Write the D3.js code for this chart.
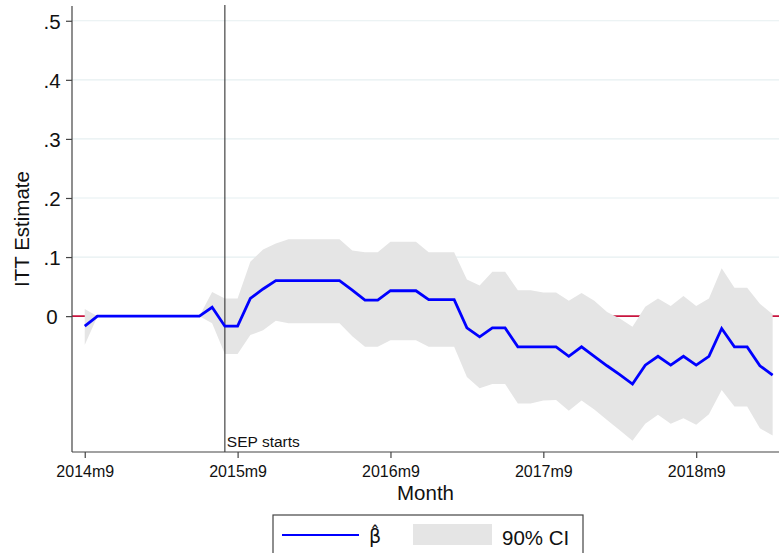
<!DOCTYPE html>
<html>
<head>
<meta charset="utf-8">
<script src="https://cdn.jsdelivr.net/npm/d3@7"></script>
<style>
  html, body { margin: 0; padding: 0; background: #fff; }
  svg { display: block; font-family: "Liberation Sans", Arial, Helvetica, sans-serif; }
</style>
</head>
<body>
<svg id="chart" width="779" height="553"></svg>
<script>
// ---- data (month index 0 = 2014m9 ... 54 = 2019m3) ----
const beta = [
  -0.017, 0, 0, 0, 0, 0, 0, 0, 0, 0,
  0.015, -0.017, -0.017, 0.030, 0.046, 0.060, 0.060, 0.060, 0.060, 0.060,
  0.060, 0.044, 0.027, 0.027, 0.043, 0.043, 0.043, 0.028, 0.028, 0.028,
  -0.020, -0.035, -0.020, -0.020, -0.052, -0.052, -0.052, -0.052, -0.068, -0.052,
  -0.068, -0.084, -0.099, -0.115, -0.083, -0.068, -0.083, -0.068, -0.083, -0.068,
  -0.021, -0.052, -0.052, -0.084, -0.100
];
const ciUpper = [
  0.012, 0, 0, 0, 0, 0, 0, 0, 0, 0,
  0.041, 0.030, 0.030, 0.092, 0.113, 0.123, 0.130, 0.130, 0.130, 0.130,
  0.130, 0.111, 0.108, 0.108, 0.126, 0.126, 0.126, 0.108, 0.108, 0.108,
  0.062, 0.052, 0.075, 0.075, 0.044, 0.044, 0.040, 0.040, 0.026, 0.039,
  0.026, 0.007, -0.004, -0.018, 0.016, 0.030, 0.017, 0.034, 0.017, 0.030,
  0.081, 0.048, 0.048, 0.021, 0.003
];
const ciLower = [
  -0.049, 0, 0, 0, 0, 0, 0, 0, 0, 0,
  -0.012, -0.064, -0.064, -0.032, -0.024, -0.008, -0.012, -0.012, -0.012, -0.012,
  -0.012, -0.034, -0.052, -0.052, -0.041, -0.041, -0.041, -0.052, -0.052, -0.052,
  -0.103, -0.122, -0.115, -0.115, -0.148, -0.148, -0.143, -0.142, -0.160, -0.143,
  -0.158, -0.176, -0.193, -0.211, -0.182, -0.167, -0.182, -0.173, -0.184, -0.166,
  -0.125, -0.153, -0.153, -0.190, -0.202
];
const xTickIdx = [0, 12, 24, 36, 48];
const xTickLabels = ["2014m9", "2015m9", "2016m9", "2017m9", "2018m9"];
const yTicks = [0, 0.1, 0.2, 0.3, 0.4, 0.5];
const yTickLabels = ["0", ".1", ".2", ".3", ".4", ".5"];
const sepStartIdx = 11;   // 2015m8
const sepLabel = "SEP starts";
const xTitle = "Month";
const yTitle = "ITT Estimate";
const legendLabels = ["\u03B2\u0302", "90% CI"];

// ---- layout ----
const svg = d3.select("#chart");
const pLeft = 72, pRight = 779, pTop = 6, pBottom = 452;

const x = d3.scaleLinear().domain([-1, 54.5]).range([pLeft, pRight]);
const y = d3.scaleLinear().domain([-0.23, 0.525]).range([pBottom, pTop]);

const idx = beta.map((_, i) => i);

// gridlines
svg.append("g").selectAll("line").data(yTicks.filter(v => v !== 0)).join("line")
  .attr("x1", pLeft).attr("x2", pRight)
  .attr("y1", d => y(d)).attr("y2", d => y(d))
  .attr("stroke", "#e6eff1").attr("stroke-width", 1.2);

// zero reference line
svg.append("line")
  .attr("x1", pLeft).attr("x2", pRight)
  .attr("y1", y(0)).attr("y2", y(0))
  .attr("stroke", "#c8143e").attr("stroke-width", 1.6);

// CI band
const area = d3.area()
  .x(i => x(i))
  .y0(i => y(ciLower[i]))
  .y1(i => y(ciUpper[i]));
svg.append("path").datum(idx).attr("d", area).attr("fill", "#e5e5e5");

// SEP start vertical line
svg.append("line")
  .attr("x1", x(sepStartIdx)).attr("x2", x(sepStartIdx))
  .attr("y1", pTop - 1).attr("y2", pBottom)
  .attr("stroke", "#333").attr("stroke-width", 1.1);
svg.append("text")
  .attr("x", x(sepStartIdx) + 2).attr("y", pBottom - 5)
  .attr("font-size", 15.5).attr("fill", "#111")
  .text(sepLabel);

// beta line
const line = d3.line().x(i => x(i)).y(i => y(beta[i]));
svg.append("path").datum(idx).attr("d", line)
  .attr("fill", "none").attr("stroke", "#0000ff").attr("stroke-width", 2.8)
  .attr("stroke-linejoin", "miter");

// x axis
const xAxis = d3.axisBottom(x)
  .tickValues(xTickIdx)
  .tickFormat((d, i) => xTickLabels[i])
  .tickSize(6).tickSizeOuter(0).tickPadding(8);
const gx = svg.append("g").attr("transform", `translate(0,${pBottom})`).call(xAxis);
gx.select(".domain").attr("stroke", "#444").attr("stroke-width", 1.2).attr("d", `M${pLeft},0H${pRight}`);
gx.selectAll(".tick line").attr("stroke", "#444").attr("stroke-width", 1.2);
gx.selectAll(".tick text").attr("font-size", 16).attr("fill", "#111")
  .attr("font-family", "Liberation Sans, Arial, sans-serif");

// y axis
const yAxis = d3.axisLeft(y)
  .tickValues(yTicks)
  .tickFormat((d, i) => yTickLabels[i])
  .tickSize(6).tickSizeOuter(0);
const gy = svg.append("g").attr("transform", `translate(${pLeft},0)`).call(yAxis);
gy.select(".domain").attr("stroke", "#444").attr("stroke-width", 1.2).attr("d", `M0,${pTop}V${pBottom}`);
gy.selectAll(".tick line").attr("stroke", "#444").attr("stroke-width", 1.2);
gy.selectAll(".tick text").attr("font-size", 20.5).attr("fill", "#111")
  .attr("text-anchor", "middle").attr("x", -20).attr("dy", "0.36em")
  .attr("font-family", "Liberation Sans, Arial, sans-serif");

// axis titles
svg.append("text")
  .attr("x", (pLeft + pRight) / 2).attr("y", 500)
  .attr("text-anchor", "middle").attr("font-size", 20.5).attr("fill", "#111")
  .text(xTitle);
svg.append("text")
  .attr("transform", `translate(29,${(pTop + pBottom) / 2}) rotate(-90)`)
  .attr("text-anchor", "middle").attr("font-size", 20.5).attr("fill", "#111")
  .text(yTitle);

// legend
const lg = svg.append("g");
lg.append("rect").attr("x", 273).attr("y", 515).attr("width", 310).attr("height", 50)
  .attr("fill", "#fff").attr("stroke", "#444").attr("stroke-width", 1.2);
lg.append("line").attr("x1", 282).attr("x2", 359).attr("y1", 535).attr("y2", 535)
  .attr("stroke", "#0000ff").attr("stroke-width", 2.2);
lg.append("text").attr("x", 369).attr("y", 543).attr("font-size", 19)
  .attr("font-family", "DejaVu Sans, sans-serif").attr("fill", "#111")
  .text(legendLabels[0]);
lg.append("rect").attr("x", 413).attr("y", 524).attr("width", 79).attr("height", 21)
  .attr("fill", "#e5e5e5");
lg.append("text").attr("x", 502).attr("y", 545).attr("font-size", 20.5).attr("fill", "#111")
  .text(legendLabels[1]);
</script>
</body>
</html>
